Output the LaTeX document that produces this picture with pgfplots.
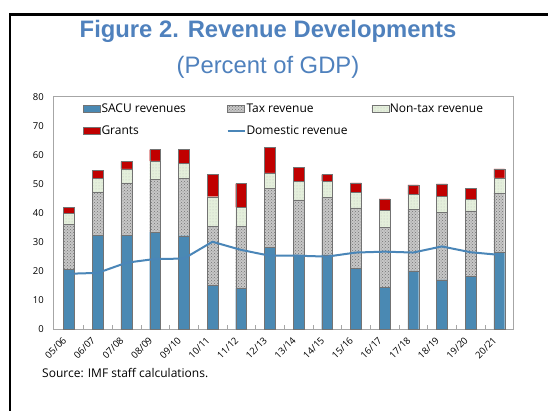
\documentclass[border=0pt]{standalone}
\usepackage{fontspec}
\setmainfont{Open Sans}
\newfontfamily\titlefont{Liberation Sans}
\usepackage{pgfplots}
\pgfplotsset{compat=1.18}
\usetikzlibrary{patterns}
\definecolor{sacublue}{HTML}{4A89B3}
\definecolor{lineblue}{HTML}{4A86B8}
\definecolor{grantred}{HTML}{C00000}
\definecolor{ntgreen}{HTML}{E4EFDB}
\definecolor{titleblue}{HTML}{4F81BD}

% increments: SACU, tax, non-tax, grants (percent of GDP)
\pgfplotstableread{
x sacu tax nontax grants dom
0 20.6 15.5 3.8 2.1 19.1
1 32.4 14.7 4.8 2.8 19.4
2 32.4 17.8 5.0 2.5 22.9
3 33.4 18.1 6.4 3.9 24.2
4 32.2 19.7 5.2 4.9 24.3
5 15.1 20.3 10.2 7.8 30.1
6 14.1 21.3 6.5 8.2 27.3
7 28.2 20.3 5.3 8.8 25.3
8 25.6 18.9 6.5 4.8 25.3
9 25.6 19.8 5.6 2.2 25.0
10 21.0 20.8 5.2 3.4 26.4
11 14.4 20.6 6.0 3.9 26.7
12 20.1 21.2 5.1 3.3 26.4
13 17.0 23.3 5.4 4.3 28.5
14 18.2 22.5 4.1 3.6 26.5
15 26.5 20.3 5.3 3.1 25.6
}\rev

\pgfplotsset{
  sacu/.style={fill=sacublue, draw=black!55, line width=0.3pt},
  tax/.style={fill=black!22, draw=black!55, line width=0.3pt,
    postaction={pattern=crosshatch dots, pattern color=black!55}},
  nontax/.style={fill=ntgreen, draw=black!55, line width=0.3pt,
    postaction={pattern=dots, pattern color=black!25}},
  grants/.style={fill=grantred, draw=black!55, line width=0.3pt},
  box/.style={legend image code/.code={\draw[##1] (0pt,-3.5pt) rectangle (17pt,3.5pt);}},
  lineleg/.style={legend image code/.code={\draw[##1] (0pt,0pt) -- (17pt,0pt);}},
  base/.style={
    scale only axis, width=459.7pt, height=232.6pt,
    at={(53.3pt,81.7pt)}, anchor=south west,
    xmin=-0.55, xmax=15.48, ymin=0, ymax=80,
  },
}

\begin{document}
\begin{tikzpicture}
\useasboundingbox (0,0) rectangle (548pt,411pt);
\fill[white] (0,0) rectangle (548pt,411pt);
\draw[line width=2.6pt] (10pt,-5pt) -- (10pt,396.5pt) -- (560pt,396.5pt);

\node[font=\titlefont\bfseries\fontsize{23.8}{26}\selectfont, text=titleblue] at (268pt,380pt) {Figure 2. Revenue Developments};
\node[font=\titlefont\fontsize{23.8}{26}\selectfont, text=titleblue] at (268pt,344pt) {(Percent of GDP)};

\begin{axis}[base,
  ybar stacked, bar width=0.38,
  axis line style={gray!70}, 
  xtick={0,...,15},
  xticklabels={05/06,06/07,07/08,08/09,09/10,10/11,11/12,12/13,13/14,14/15,15/16,16/17,17/18,18/19,19/20,20/21},
  minor xtick={0.5,1.5,...,14.5},
  major tick length=0pt, minor tick length=4pt,
  tick align=inside, xtick pos=bottom, ytick pos=left,
  minor tick style={gray!70},
  ytick={0,10,...,80},
  /pgf/number format/assume math mode=true,
  yticklabel style={font=\fontsize{9.5}{10}\selectfont, xshift=-6pt},
  xticklabel style={font=\fontsize{9.5}{11}\selectfont, xshift=-2pt, yshift=-7pt, rotate=45, anchor=east},
]
\addplot[sacu] table[x=x,y=sacu] {\rev};
\addplot[tax] table[x=x,y=tax] {\rev};
\addplot[nontax] table[x=x,y=nontax] {\rev};
\addplot[grants] table[x=x,y=grants] {\rev};
\end{axis}

\begin{axis}[base, axis lines=none,
  legend columns=3,
  legend style={draw=none, fill=none, inner sep=0pt, at={(0.0646,0.975)}, anchor=north west,
    font=\fontsize{12}{14}\selectfont, row sep=10pt,
    nodes={inner xsep=1pt, inner ysep=1pt}},
]
\addlegendimage{sacu, box}
\addlegendentry{\makebox[124pt][l]{SACU revenues}}
\addlegendimage{tax, box}
\addlegendentry{\makebox[124pt][l]{Tax revenue}}
\addlegendimage{nontax, box}
\addlegendentry{\makebox[124pt][l]{Non-tax revenue}}
\addlegendimage{grants, box}
\addlegendentry{\makebox[124pt][l]{Grants}}
\addplot[lineblue, line width=2pt, mark=none, lineleg]
  table[x=x,y=dom] {\rev};
\addlegendentry{\makebox[124pt][l]{Domestic revenue}}
\end{axis}

\node[anchor=west, font=\fontsize{12}{14}\selectfont, inner sep=0pt] at (42pt,38pt) {Source: IMF staff calculations.};
\end{tikzpicture}
\end{document}
